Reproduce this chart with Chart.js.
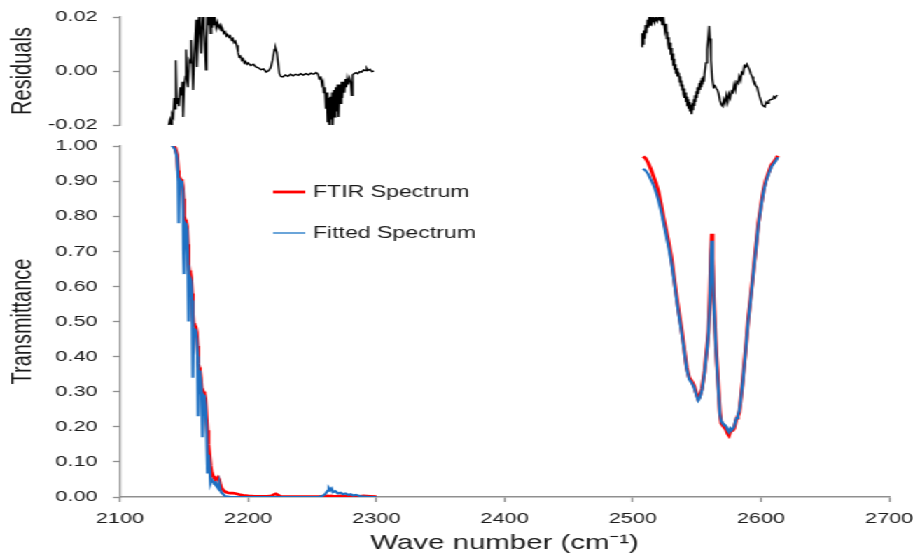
<!DOCTYPE html>
<html><head><meta charset="utf-8">
<script src="https://cdn.jsdelivr.net/npm/chart.js@4/dist/chart.umd.min.js"></script>
<style>
html,body{margin:0;padding:0;background:#fff;overflow:hidden;}
#stage{position:absolute;left:0;top:0;width:652px;height:556px;transform:scaleX(1.40031);transform-origin:0 0;}
#cTop{position:absolute;left:0;top:0;}
#cBot{position:absolute;left:0;top:130px;}
</style></head><body>
<div id="stage">
<canvas id="cTop" width="652" height="140"></canvas>
<canvas id="cBot" width="652" height="426"></canvas>
</div>
<script>
// ---------- DATA ----------
const xTicks = [2100, 2200, 2300, 2400, 2500, 2600, 2700];
const labelFTIR = "FTIR Spectrum";
const labelFit = "Fitted Spectrum";
const yTitleRes = "Residuals";
const yTitleT = "Transmittance";
const xTitle = "Wave number (cm\u207B\u00B9)";

// Transmittance, low-wavenumber region
const wnT1 = [2139.5,2141,2143,2144.5,2145.4,2145.8,2146.3,2147.3,2148.3,2149.0,
  2149.5,2150.0,2150.7,2151.5,2152.3,2153.0,2153.5,2154.0,2154.8,2155.5,
  2156.2,2156.8,2157.3,2158.2,2159.0,2159.8,2160.5,2161.0,2161.6,2162.3,
  2163.0,2163.7,2164.3,2165.0,2165.8,2166.6,2167.4,2168.2,2169.0,2169.8,
  2170.6,2171.5,2172.5,2173.5,2174.5,2175.5,2176.5,2177.3,2178.2,2179.2,
  2180.5,2182,2184,2186,2188,2190,2193,2196,2200,2205,
  2210,2215,2218,2220,2221.5,2223,2225,2230,2240,2250,
  2255,2258,2260,2262,2263,2264,2265,2266,2268,2270,
  2272,2274,2276,2278,2280,2282,2284,2287,2290,2295,
  2300];
const ftirT1 = [1.01,1.005,0.995,0.975,0.93,0.915,0.91,0.905,0.90,0.88,
  0.85,0.80,0.79,0.785,0.77,0.72,0.66,0.645,0.64,0.625,
  0.58,0.52,0.495,0.49,0.485,0.47,0.43,0.38,0.37,0.36,
  0.34,0.31,0.30,0.30,0.295,0.28,0.23,0.19,0.15,0.12,
  0.09,0.07,0.06,0.055,0.05,0.05,0.055,0.05,0.035,0.025,
  0.02,0.015,0.012,0.011,0.011,0.01,0.007,0.005,0.003,0.002,
  0.002,0.002,0.003,0.007,0.009,0.006,0.002,0.001,0.001,0.001,
  0.001,0.002,0.002,0.003,0.003,0.002,0.003,0.002,0.002,0.002,
  0.003,0.002,0.002,0.002,0.002,0.002,0.002,0.002,0.003,0.002,
  0.001];
const fitT1 = [1.005,1.0,0.99,0.965,0.90,0.78,0.905,0.90,0.895,0.87,
  0.70,0.635,0.78,0.775,0.76,0.66,0.50,0.63,0.63,0.615,
  0.56,0.34,0.48,0.48,0.475,0.45,0.40,0.23,0.36,0.35,
  0.33,0.29,0.17,0.29,0.285,0.26,0.20,0.07,0.12,0.09,
  0.04,0.05,0.045,0.04,0.042,0.03,0.025,0.04,0.02,0.012,
  0.008,0.002,0.001,0,0,0,0,0,0,0,
  0,0,0,0,0,0,0,0,0,0,
  0,0.003,0.008,0.018,0.025,0.02,0.024,0.014,0.017,0.01,
  0.012,0.008,0.01,0.006,0.008,0.004,0.006,0.003,0.001,0,
  0];

// Transmittance, high-wavenumber region
const wnT2 = [2508,2510,2512,2514,2516,2518,2520,2522,2524,2526,
  2528,2530,2532,2534,2536,2538,2540,2542,2544,2546,
  2548,2550,2551,2552,2554,2556,2558,2559,2560,2561,
  2561.6,2562.3,2563,2564,2565,2566,2567,2568,2569,2570,
  2572,2573,2574,2575,2576,2577,2578,2579,2580,2581,
  2582,2583,2584,2586,2588,2590,2592,2594,2596,2598,
  2600,2602,2604,2606,2608,2610,2612,2613];
const ftirT2 = [0.97,0.965,0.952,0.935,0.915,0.895,0.87,0.835,0.795,0.76,
  0.725,0.685,0.63,0.575,0.525,0.48,0.425,0.37,0.34,0.33,
  0.315,0.29,0.28,0.285,0.31,0.36,0.43,0.47,0.56,0.70,
  0.75,0.68,0.58,0.50,0.42,0.36,0.30,0.24,0.21,0.205,
  0.20,0.19,0.18,0.175,0.185,0.19,0.19,0.195,0.21,0.225,
  0.23,0.24,0.27,0.34,0.42,0.505,0.57,0.64,0.71,0.78,
  0.83,0.875,0.905,0.925,0.945,0.955,0.965,0.972];
const fitT2 = [0.935,0.93,0.92,0.905,0.89,0.87,0.845,0.815,0.78,0.745,
  0.71,0.67,0.62,0.565,0.515,0.47,0.42,0.365,0.335,0.325,
  0.31,0.285,0.275,0.28,0.305,0.355,0.425,0.465,0.55,0.69,
  0.73,0.67,0.57,0.49,0.41,0.35,0.29,0.235,0.215,0.21,
  0.205,0.20,0.19,0.185,0.195,0.19,0.195,0.20,0.215,0.225,
  0.235,0.245,0.27,0.335,0.415,0.50,0.565,0.635,0.705,0.775,
  0.825,0.87,0.9,0.92,0.94,0.95,0.96,0.968];

// Residuals [wavenumber, residual]
const resLeft = [[2138.0,-0.020],[2139.0,-0.018],[2140.0,-0.020],[2140.6,-0.016],[2141.5,-0.017],
  [2142.3,-0.010],[2143.0,-0.014],[2143.5,0.004],[2144.2,-0.012],[2145.0,-0.010],[2146.0,-0.013],
  [2147.0,-0.006],[2148.0,-0.009],[2148.6,-0.004],[2149.2,-0.017],[2150.0,-0.006],[2151.0,-0.002],
  [2151.5,0.008],[2152.3,-0.003],[2153.0,-0.006],[2154.0,0.004],[2155.0,0.003],[2155.5,0.0115],
  [2156.3,0.002],[2157.0,-0.007],[2158.0,0.006],[2159.0,0.015],[2159.4,0.019],[2160.0,0.0015],
  [2160.8,0.012],[2161.7,0.021],[2162.5,0.014],[2163.3,0.0065],[2164.0,0.016],[2164.8,0.021],
  [2165.5,0.016],[2166.3,0.008],[2167.0,0.0004],[2167.6,0.012],[2168.2,0.021],[2169.0,0.017],
  [2169.8,0.021],[2170.5,0.014],[2171.2,0.021],[2172.0,0.016],[2172.8,0.021],[2173.5,0.017],
  [2174.2,0.019],[2175.0,0.016],[2176.0,0.018],[2177.0,0.016],[2178.0,0.017],[2179.0,0.015],
  [2180.0,0.0155],[2181.0,0.014],[2182.0,0.0145],[2183.0,0.013],[2184.0,0.0135],[2185.0,0.0125],
  [2186.0,0.013],[2187.0,0.0115],[2188.0,0.012],[2189.0,0.0105],[2190.0,0.011],[2191.0,0.0095],
  [2192.0,0.007],[2193.0,0.0052],[2194.0,0.0055],[2195.0,0.004],[2196.0,0.0045],[2197.0,0.003],
  [2198.0,0.0035],[2199.0,0.0025],[2200.0,0.003],[2202.0,0.002],[2204.0,0.0025],[2206.0,0.0015],
  [2208.0,0.0012],[2210.0,0.0005],[2212.0,0.0008],[2214.0,-0.0004],[2216.0,0.0002],[2217.5,0.0012],
  [2219.0,0.004],[2220.5,0.008],[2221.3,0.0085],[2222.3,0.007],[2223.3,0.003],[2224.3,-0.001],
  [2225.5,-0.002],[2227.0,-0.0022],[2229.0,-0.0015],[2231.0,-0.002],[2233.0,-0.0012],[2235.0,-0.0018],
  [2237.0,-0.0012],[2239.0,-0.0016],[2241.0,-0.001],[2243.0,-0.0015],[2245.0,-0.001],[2247.0,-0.0014],
  [2249.0,-0.0008],[2251.0,-0.0012],[2253.0,-0.0006],[2254.5,-0.0012],[2255.5,-0.003],[2256.5,-0.002],
  [2257.5,-0.005],[2258.3,-0.004],[2259.0,-0.008],[2259.8,-0.006],[2260.5,-0.014],[2261.2,-0.008],
  [2261.9,-0.019],[2262.5,-0.010],[2263.2,-0.020],[2264.0,-0.0095],[2264.8,-0.018],[2265.5,-0.008],
  [2266.0,-0.020],[2266.8,-0.007],[2267.5,-0.017],[2268.3,-0.006],[2269.0,-0.015],[2269.8,-0.005],
  [2270.5,-0.017],[2271.3,-0.005],[2272.0,-0.012],[2272.8,-0.004],[2273.5,-0.010],[2274.3,-0.004],
  [2275.0,-0.008],[2275.8,-0.003],[2276.5,-0.006],[2277.3,-0.003],[2278.0,-0.005],[2279.0,-0.0026],
  [2280.0,-0.004],[2280.8,-0.009],[2281.5,-0.0015],[2282.5,-0.001],[2284.0,-0.0006],[2285.5,-0.001],
  [2287.0,-0.0002],[2288.5,-0.0004],[2290.0,0.0004],[2291.5,0.0002],[2292.5,0.001],[2293.5,0.0002],
  [2295.0,0.0006],[2296.5,-0.0002],[2298.0,0.0]];
const resRight = [[2507.0,0.009],[2507.3,0.014],[2508.0,0.010],[2508.6,0.015],[2509.3,0.012],
  [2510.0,0.017],[2510.7,0.014],[2511.4,0.019],[2512.1,0.016],[2512.8,0.020],[2513.5,0.017],
  [2514.2,0.020],[2515.0,0.018],[2516.0,0.020],[2517.0,0.018],[2518.0,0.020],[2519.0,0.0185],
  [2520.0,0.020],[2521.0,0.019],[2522.0,0.020],[2523.0,0.017],[2524.0,0.019],[2525.0,0.015],
  [2526.0,0.0175],[2526.5,0.012],[2527.0,0.0145],[2527.5,0.010],[2528.0,0.0125],[2528.5,0.008],
  [2529.0,0.0105],[2529.5,0.006],[2530.0,0.0085],[2530.5,0.004],[2531.0,0.0065],[2531.5,0.002],
  [2532.0,0.0045],[2532.5,0.0005],[2533.0,0.0025],[2533.5,-0.001],[2534.0,0.001],[2534.5,-0.002],
  [2535.0,0.0],[2536.0,-0.001],[2536.5,-0.004],[2537.0,-0.002],[2537.5,-0.0055],[2538.0,-0.0035],
  [2538.5,-0.007],[2539.0,-0.005],[2539.5,-0.0085],[2540.0,-0.0065],[2540.5,-0.010],[2541.0,-0.008],
  [2541.5,-0.0115],[2542.0,-0.0095],[2542.5,-0.013],[2543.0,-0.0105],[2543.5,-0.014],[2544.0,-0.0115],
  [2544.5,-0.015],[2545.0,-0.0125],[2545.8,-0.016],[2546.5,-0.012],[2547.0,-0.0145],[2547.5,-0.0105],
  [2548.0,-0.013],[2548.5,-0.009],[2549.0,-0.0115],[2549.5,-0.0075],[2550.0,-0.010],[2550.5,-0.006],
  [2551.0,-0.0085],[2552.0,-0.0045],[2552.5,-0.007],[2553.0,-0.0035],[2553.5,-0.006],[2554.0,-0.0025],
  [2554.5,-0.005],[2555.0,-0.002],[2555.5,-0.004],[2556.0,-0.001],[2557.0,0.003],[2558.0,0.008],
  [2559.0,0.013],[2559.6,0.0167],[2560.2,0.012],[2561.0,0.004],[2562.0,-0.003],[2563.0,-0.006],
  [2564.0,-0.0055],[2565.0,-0.0065],[2566.0,-0.007],[2567.0,-0.0085],[2568.0,-0.011],[2569.0,-0.0125],
  [2570.0,-0.013],[2571.0,-0.0105],[2572.0,-0.012],[2573.0,-0.009],[2574.0,-0.0115],[2575.0,-0.0085],
  [2576.0,-0.010],[2577.0,-0.0075],[2578.0,-0.008],[2579.0,-0.005],[2580.0,-0.007],[2581.0,-0.004],
  [2582.0,-0.0045],[2583.0,-0.002],[2584.0,-0.0035],[2585.0,-0.0005],[2586.0,-0.001],[2587.0,0.002],
  [2588.0,0.0015],[2589.0,0.0025],[2590.0,0.0015],[2591.0,0.0005],[2592.0,-0.001],[2593.0,-0.002],
  [2594.0,-0.0035],[2595.0,-0.004],[2596.0,-0.0055],[2597.0,-0.006],[2598.0,-0.008],[2599.0,-0.0096],
  [2600.0,-0.011],[2601.0,-0.0125],[2602.0,-0.013],[2603.0,-0.0133],[2604.0,-0.0115],[2605.0,-0.012],
  [2606.0,-0.011],[2607.0,-0.0107],[2608.0,-0.0105],[2609.0,-0.0105],[2610.0,-0.0095],[2611.0,-0.010],
  [2612.5,-0.0089]];

// ---------- STYLE / BUILD ----------
const FONT = "'Liberation Sans', Arial, Helvetica, sans-serif";
const AXIS = '#8f8f8f';
const TXT = '#1a1a1a';
const RED = '#ff0000';
const BLUE = '#1e70c2';
const BLUE_LEG = '#5b9bd5';
const GAP_X = 2400;

function pts(xs, ys){ return xs.map((x,i)=>({x:x, y:ys[i]})); }
function joinSeg(a, b){ return a.concat([{x:GAP_X, y:null}], b); }
const pairPts = arr => arr.map(p=>({x:p[0], y:p[1]}));

const fmt2 = v => (Math.abs(v) < 1e-9 ? 0 : v).toFixed(2);

function yScale(min, max, step, title){
  return {
    type:'linear', min:min, max:max,
    afterFit: s => { s.width = 85.7; s.paddingTop = 0; s.paddingBottom = 0; },
    ticks:{ stepSize:step, autoSkip:false, callback:fmt2, color:TXT, padding:11,
            font:{family:FONT, size:15.5} },
    grid:{ display:true, drawOnChartArea:false, drawTicks:true, tickLength:5, color:AXIS, tickWidth:1.3 },
    border:{ display:true, color:AXIS, width:1.3 },
    title:{ display:true, text:title, color:TXT, font:{family:FONT, size:20}, padding:{top:4, bottom:0} }
  };
}

const legendPlugin = {
  id:'insideLegend',
  afterDatasetsDraw(chart){
    const ctx = chart.ctx;
    const items = [
      {label:labelFTIR, color:RED, w:2.8, y:62},
      {label:labelFit, color:BLUE_LEG, w:1.8, y:103}
    ];
    ctx.save();
    ctx.font = "16.5px " + FONT;
    ctx.textBaseline = 'middle';
    ctx.textAlign = 'left';
    items.forEach(it => {
      ctx.strokeStyle = it.color; ctx.lineWidth = it.w;
      ctx.beginPath(); ctx.moveTo(195, it.y); ctx.lineTo(218, it.y); ctx.stroke();
      ctx.fillStyle = TXT;
      ctx.fillText(it.label, 223.5, it.y + 0.5);
    });
    ctx.restore();
  }
};

Chart.defaults.font.family = FONT;
Chart.defaults.color = TXT;

new Chart(document.getElementById('cTop'), {
  type:'line',
  data:{ datasets:[{
    label:'Residuals',
    data: joinSeg(pairPts(resLeft), pairPts(resRight)),
    borderColor:'#000', borderWidth:1.4, pointRadius:0, spanGaps:false, tension:0, clip:0
  }]},
  options:{
    responsive:false, animation:false, devicePixelRatio:1,
    layout:{ padding:{left:0, right:17, top:17, bottom:15} },
    plugins:{ legend:{display:false}, tooltip:{enabled:false} },
    scales:{
      x:{ type:'linear', min:xTicks[0], max:xTicks[xTicks.length-1], display:false },
      y: yScale(-0.02, 0.02, 0.02, yTitleRes)
    }
  }
});

new Chart(document.getElementById('cBot'), {
  type:'line',
  data:{ datasets:[
    { label:labelFit, data: joinSeg(pts(wnT1, fitT1), pts(wnT2, fitT2)),
      borderColor:BLUE, borderWidth:2.1, pointRadius:0, spanGaps:false, tension:0, clip:0 },
    { label:labelFTIR, data: joinSeg(pts(wnT1, ftirT1), pts(wnT2, ftirT2)),
      borderColor:RED, borderWidth:2.7, pointRadius:0, spanGaps:false, tension:0, clip:0 }
  ]},
  options:{
    responsive:false, animation:false, devicePixelRatio:1,
    layout:{ padding:{left:0, right:17, top:16, bottom:0} },
    plugins:{ legend:{display:false}, tooltip:{enabled:false} },
    scales:{
      x:{ type:'linear', min:xTicks[0], max:xTicks[xTicks.length-1],
          afterFit: s => { s.height = 59; s.paddingLeft = 0; s.paddingRight = 0; },
          afterBuildTicks: s => { s.ticks = xTicks.map(v=>({value:v})); },
          ticks:{ autoSkip:false, maxRotation:0, color:TXT, padding:7, callback: v => String(v),
                  font:{family:FONT, size:15.5} },
          grid:{ display:true, drawOnChartArea:false, drawTicks:true, tickLength:5, color:AXIS, tickWidth:1.3 },
          border:{ display:true, color:AXIS, width:1.5 },
          title:{ display:true, text:xTitle, color:TXT, font:{family:FONT, size:21}, padding:{top:0, bottom:0} }
      },
      y: yScale(0, 1, 0.1, yTitleT)
    }
  },
  plugins:[legendPlugin]
});
</script>
</body></html>
